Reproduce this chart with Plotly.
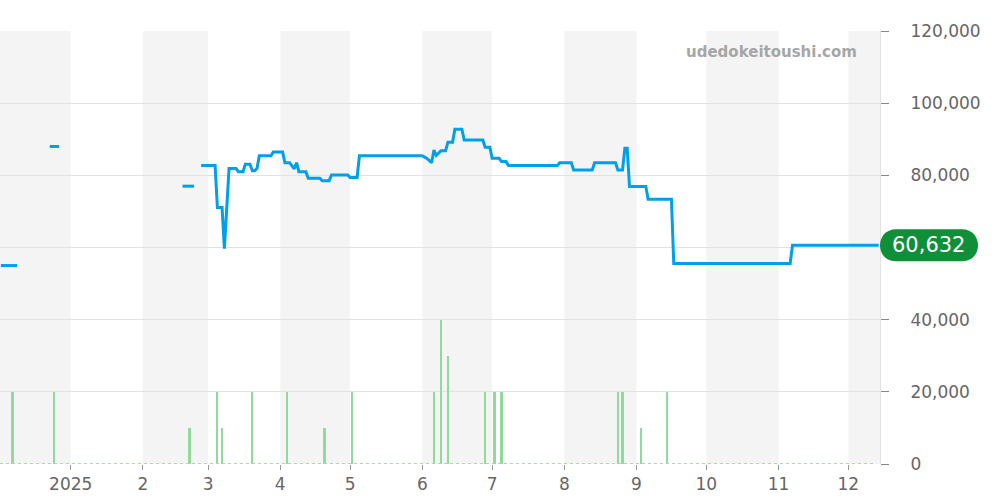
import plotly.graph_objects as go

# ---- data ----
price_dates = [
    "2024-12-02", "2024-12-09", None,
    "2024-12-23", "2024-12-27", None,
    "2025-02-18", "2025-02-23", None,
    "2025-02-26", "2025-03-04", "2025-03-05", "2025-03-07", "2025-03-08",
    "2025-03-10", "2025-03-13", "2025-03-14", "2025-03-16", "2025-03-17",
    "2025-03-19", "2025-03-20", "2025-03-21", "2025-03-22", "2025-03-23",
    "2025-03-28", "2025-03-29", "2025-04-02", "2025-04-03", "2025-04-05",
    "2025-04-07", "2025-04-08", "2025-04-09", "2025-04-12", "2025-04-13",
    "2025-04-18", "2025-04-19", "2025-04-22", "2025-04-23", "2025-04-30",
    "2025-05-01", "2025-05-04", "2025-05-05", "2025-06-01", "2025-06-03",
    "2025-06-05", "2025-06-06", "2025-06-07", "2025-06-09", "2025-06-11",
    "2025-06-12", "2025-06-14", "2025-06-15", "2025-06-18", "2025-06-19",
    "2025-06-27", "2025-06-28", "2025-06-30", "2025-07-01", "2025-07-04",
    "2025-07-05", "2025-07-07", "2025-07-08", "2025-07-29", "2025-07-30",
    "2025-08-04", "2025-08-05", "2025-08-13", "2025-08-14", "2025-08-23",
    "2025-08-24", "2025-08-26", "2025-08-27", "2025-08-28", "2025-08-29",
    "2025-09-05", "2025-09-06", "2025-09-16", "2025-09-17", "2025-11-06",
    "2025-11-07", "2025-12-14",
]
price_values = [
    55000, 55000, None,
    88000, 88000, None,
    77000, 77000, None,
    82700, 82700, 71100, 71100, 59700,
    81900, 81900, 81000, 81000, 83100,
    83100, 81300, 81300, 81900, 85400,
    85400, 86500, 86500, 83500, 83500,
    81800, 83500, 81000, 81000, 79200,
    79200, 78500, 78500, 80100, 80100,
    79400, 79400, 85400, 85400, 84700,
    83500, 87000, 85500, 86800, 86800,
    89200, 89200, 92800, 92800, 89800,
    89800, 87800, 87800, 84700, 84700,
    83800, 83800, 82700, 82700, 83500,
    83500, 81500, 81500, 83500, 83500,
    81500, 81500, 87500, 87500, 76900,
    76900, 73400, 73400, 55600, 55600,
    60632, 60632,
]

volume_dates = [
    "2024-12-07", "2024-12-25", "2025-02-21", "2025-03-05", "2025-03-07",
    "2025-03-20", "2025-04-04", "2025-04-20", "2025-05-02", "2025-06-06",
    "2025-06-09", "2025-06-12", "2025-06-28", "2025-07-02", "2025-07-05",
    "2025-08-24", "2025-08-26", "2025-09-03", "2025-09-14",
]
volume_values = [
    20000, 20000, 10000, 20000, 10000,
    20000, 20000, 10000, 20000, 20000,
    40000, 30000, 20000, 20000, 20000,
    20000, 20000, 10000, 20000,
]

month_starts = [
    "2025-01-01", "2025-02-01", "2025-03-01", "2025-04-01", "2025-05-01",
    "2025-06-01", "2025-07-01", "2025-08-01", "2025-09-01", "2025-10-01",
    "2025-11-01", "2025-12-01",
]
month_labels = ["2025", "2", "3", "4", "5", "6", "7", "8", "9", "10", "11", "12"]
shaded_months = [("2024-12-01", "2025-01-01"), ("2025-02-01", "2025-03-01"),
                 ("2025-04-01", "2025-05-01"), ("2025-06-01", "2025-07-01"),
                 ("2025-08-01", "2025-09-01"), ("2025-10-01", "2025-11-01"),
                 ("2025-12-01", "2026-01-01")]
y_ticks = [0, 20000, 40000, 60000, 80000, 100000, 120000]
y_tick_labels = ["0", "20,000", "40,000", "", "80,000", "100,000", "120,000"]
last_price = 60632

x_start = "2024-12-01 15:00"
x_end = "2025-12-14 14:00"

FONT = "DejaVu Sans"
LINE = "#00a0e9"
GREEN = "#0f9038"

fig = go.Figure()

fig.add_trace(go.Bar(
    x=volume_dates, y=volume_values,
    marker=dict(color="#93d99b", line=dict(width=0)),
    width=0.9 * 86400000,
    hoverinfo="skip",
))

fig.add_trace(go.Scatter(
    x=price_dates, y=price_values, mode="lines",
    line=dict(color=LINE, width=3),
    connectgaps=False,
))

shapes = []
for a, b in shaded_months:
    shapes.append(dict(type="rect", xref="x", yref="paper", x0=a, x1=b, y0=0, y1=1,
                       fillcolor="#f4f4f4", line=dict(width=0), layer="below"))
# dotted baseline of the volume series
shapes.append(dict(type="line", xref="paper", yref="y", x0=0, x1=0.992, y0=0, y1=0,
                   line=dict(color="#a6dcae", width=2, dash="dot"), layer="above"))
# rounded label box for last price
r = 16
w = 98
k = r * 4 / 3
path = (f"M {r},{-r} L {w - r},{-r} C {w - r + k},{-r} {w - r + k},{r} {w - r},{r} "
        f"L {r},{r} C {r - k},{r} {r - k},{-r} {r},{-r} Z")
shapes.append(dict(type="path", xref="paper", yref="y", xsizemode="pixel", ysizemode="pixel",
                   xanchor=1, yanchor=last_price, path=path,
                   fillcolor=GREEN, line=dict(width=0), layer="above"))

fig.update_layout(
    width=1000, height=500,
    margin=dict(l=0, r=120, t=31, b=36),
    paper_bgcolor="white", plot_bgcolor="white",
    showlegend=False,
    bargap=0,
    hovermode=False,
    font=dict(family=FONT, color="#666666", size=17),
    shapes=shapes,
    xaxis=dict(
        type="date", range=[x_start, x_end],
        tickvals=month_starts, ticktext=month_labels,
        showgrid=False, zeroline=False,
        ticks="outside", ticklen=5, tickcolor="#999999", tickwidth=1,
        tickfont=dict(size=17, color="#666666"),
        showline=False,
    ),
    yaxis=dict(
        side="right", range=[0, 120000],
        tickvals=y_ticks, ticktext=y_tick_labels,
        showgrid=True, gridcolor="#e2e2e2", gridwidth=1, zeroline=False,
        ticks="outside", ticklen=8, tickcolor="#888888", tickwidth=1,
        ticklabelstandoff=18,
        tickfont=dict(size=17, color="#666666"),
        showline=True, linecolor="#e2e2e2", linewidth=1,
    ),
    annotations=[
        dict(text="<b>udedokeitoushi.com</b>", xref="paper", yref="paper",
             x=0.976, y=0.951, xanchor="right", yanchor="middle", showarrow=False,
             font=dict(family=FONT, size=15, color="#a6a6a6")),
        dict(text=f"{last_price:,}", xref="paper", yref="y", x=1, y=last_price,
             xshift=48, xanchor="center", yanchor="middle", showarrow=False,
             font=dict(family=FONT, size=21, color="white")),
    ],
)

fig.write_html("out.html",
               config={"displayModeBar": False, "staticPlot": True},
               post_script="document.body.style.margin='0';document.body.style.overflow='hidden';")
